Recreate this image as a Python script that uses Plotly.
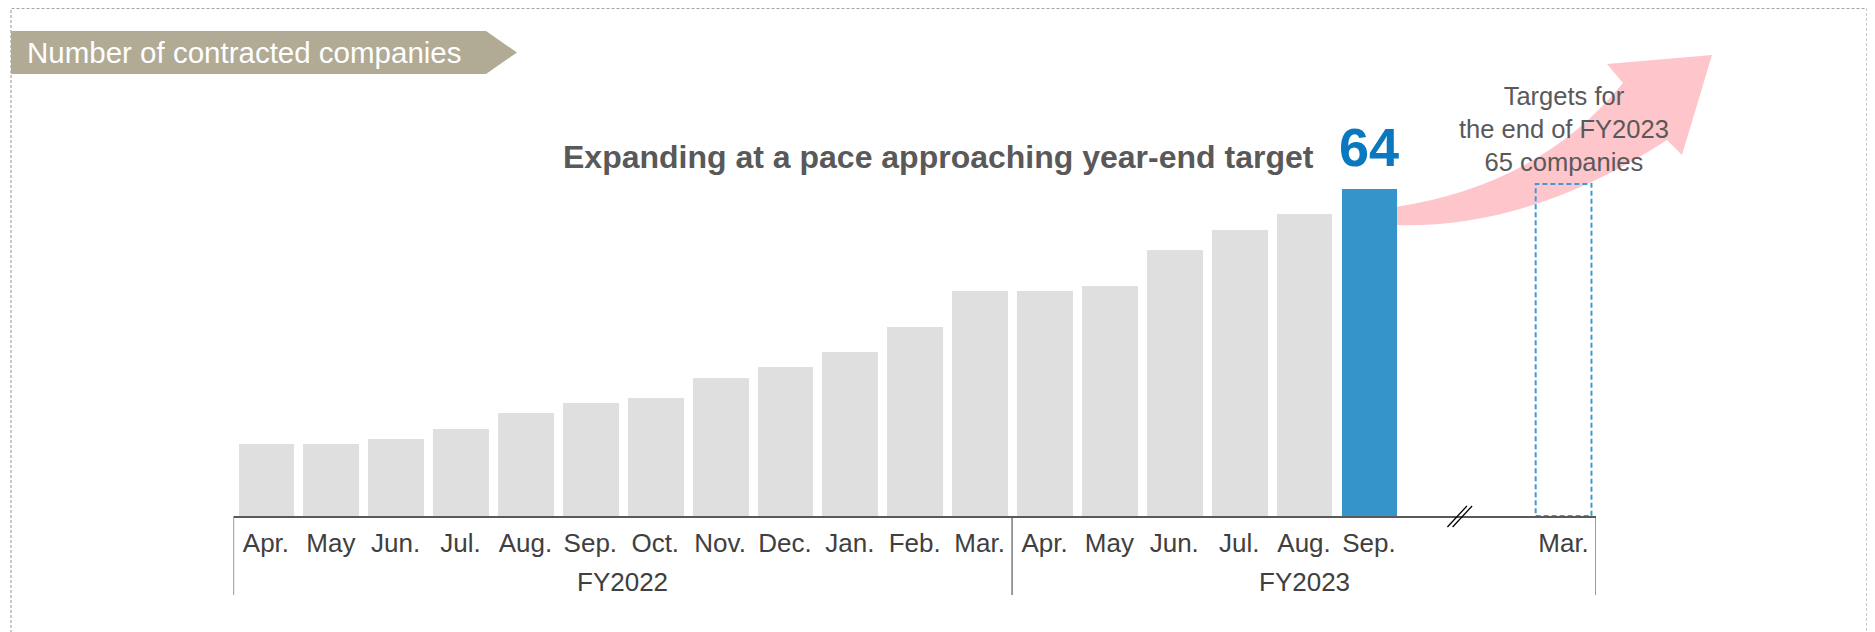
import plotly.graph_objects as go

# The page body has an 8px margin, so the figure fills the window from (8, 8).
OFF = 8
W, H = 1875 - OFF, 632 - OFF

# ---------------- data ----------------
month_labels = ["Apr.", "May", "Jun.", "Jul.", "Aug.", "Sep.", "Oct.", "Nov.", "Dec.", "Jan.", "Feb.", "Mar.",
                "Apr.", "May", "Jun.", "Jul.", "Aug.", "Sep."]
companies = [14, 14, 15, 17, 20, 22, 23, 27, 29, 32, 37, 44,
             44, 45, 52, 56, 59, 64]
target_label = "Mar."
target_value = 65
fiscal_years = ["FY2022", "FY2023"]
fy_sizes = [12, 9]          # slots per fiscal year block (FY2023 includes the gap + target)
gap_slots = 2               # skipped months shown with a break mark

title_text = "Expanding at a pace approaching year-end target"
target_text = "Targets for<br>the end of FY2023<br>65 companies"
header_text = "Number of contracted companies"

# ---------------- derived positions ----------------
n = len(companies)
x_idx = list(range(n))
target_idx = n - 1 + gap_slots + 1
bar_w = 0.86

colors = ["#dfdfdf"] * (n - 1) + ["#3595cb"]


def PX(px):
    return (px - OFF) / W


def PY(py):
    return 1 - (py - OFF) / H


FONT = "Liberation Sans, Arial, sans-serif"

fig = go.Figure()
fig.add_trace(go.Bar(x=x_idx, y=companies, width=bar_w, marker=dict(color=colors, line=dict(width=0)),
                     hovertemplate="%{y}<extra></extra>"))
fig.add_trace(go.Bar(x=[target_idx], y=[target_value], width=bar_w,
                     marker=dict(color="rgba(0,0,0,0)", line=dict(width=0)),
                     hovertemplate="Target %{y}<extra></extra>"))

y_bottom_px, y_top_px = 516, 516 - 70 * 5.109
x_left_px, x_right_px = 233.5, 1596

fig.update_layout(
    width=W, height=H,
    margin=dict(l=0, r=0, t=0, b=0),
    paper_bgcolor="white", plot_bgcolor="rgba(0,0,0,0)",
    showlegend=False,
    bargap=0,
    font=dict(family=FONT),
    xaxis=dict(domain=[PX(x_left_px), PX(x_right_px)], range=[-0.5, target_idx + 0.5],
               tickvals=x_idx + [target_idx], ticktext=month_labels + [target_label],
               tickfont=dict(size=26, color="#404040", family=FONT),
               ticks="outside", ticklen=3, tickcolor="rgba(0,0,0,0)",
               showline=True, linecolor="#595959", linewidth=1.5,
               showgrid=False, zeroline=False, fixedrange=True),
    yaxis=dict(domain=[PY(y_bottom_px), PY(y_top_px)], range=[0, 70], visible=False,
               showgrid=False, zeroline=False, fixedrange=True),
)


def P(a, b):
    return f"{PX(a):.5f},{PY(b):.5f}"


shapes = []
# outer dashed frame
shapes.append(dict(type="rect", xref="paper", yref="paper", x0=PX(11), x1=PX(1867), y0=PY(660), y1=PY(8.5),
                   line=dict(color="#a6a6a6", width=1.2, dash="3px,2px"), fillcolor="rgba(0,0,0,0)", layer="below"))
# header banner (arrow-shaped tag)
hp = [(11, 31), (486, 31), (517, 52.5), (486, 74), (11, 74)]
path = "M " + " L ".join(P(a, b) for a, b in hp) + " Z"
shapes.append(dict(type="path", xref="paper", yref="paper", path=path, fillcolor="#b1aa95",
                   line=dict(width=0), layer="below"))
# pink curved arrow
arrow = (f"M {P(1395,207)} Q {P(1540,185)} {P(1623,83)} L {P(1607,64)} L {P(1712,55)} "
         f"L {P(1682,155)} L {P(1667,140)} Q {P(1530,229)} {P(1395,225)} Z")
shapes.append(dict(type="path", xref="paper", yref="paper", path=arrow, fillcolor="#fec5cb",
                   line=dict(width=0), layer="below"))
# target dashed bar
shapes.append(dict(type="rect", xref="x", yref="y", x0=target_idx - bar_w / 2, x1=target_idx + bar_w / 2,
                   y0=0, y1=target_value, line=dict(color="#3a9bd5", width=2, dash="5px,3px"),
                   fillcolor="rgba(0,0,0,0)"))
# fiscal-year separators
bounds = [-0.5]
for s in fy_sizes:
    bounds.append(bounds[-1] + s)
for b in bounds:
    shapes.append(dict(type="line", xref="x", yref="paper", x0=b, x1=b, y0=PY(595), y1=PY(516),
                       line=dict(color="#595959", width=1.2)))
# break mark "//"
bx = n - 1 + (gap_slots + 1) / 2 - 0.1
for off in (-0.04, 0.04):
    shapes.append(dict(type="line", xref="x", yref="paper",
                       x0=bx + off - 0.15, x1=bx + off + 0.15, y0=PY(527), y1=PY(506),
                       line=dict(color="black", width=1.3)))
fig.update_layout(shapes=shapes)

ann = []
ann.append(dict(text=header_text, xref="paper", yref="paper", x=PX(25), y=PY(53), xanchor="left",
                yanchor="middle", showarrow=False, font=dict(size=29.5, color="white", family=FONT)))
ann.append(dict(text="<b>" + title_text + "</b>", xref="paper", yref="paper", x=PX(1316), y=PY(157),
                xanchor="right", yanchor="middle", showarrow=False,
                font=dict(size=32, color="#595959", family=FONT)))
ann.append(dict(text="<b>%d</b>" % companies[-1], xref="x", yref="paper", x=n - 1, y=PY(147),
                xanchor="center", yanchor="middle", showarrow=False,
                font=dict(size=54, color="#0a78be", family=FONT)))
ann.append(dict(text=target_text, xref="x", yref="paper", x=target_idx, y=PY(129),
                xanchor="center", yanchor="middle", showarrow=False, align="center",
                font=dict(size=25.5, color="#595959", family=FONT)))
start = -0.5
for fy, s in zip(fiscal_years, fy_sizes):
    ann.append(dict(text=fy, xref="x", yref="paper", x=start + s / 2, y=PY(582), xanchor="center",
                    yanchor="middle", showarrow=False, font=dict(size=26, color="#404040", family=FONT)))
    start += s
fig.update_layout(annotations=ann)

fig.write_html("out.html")
